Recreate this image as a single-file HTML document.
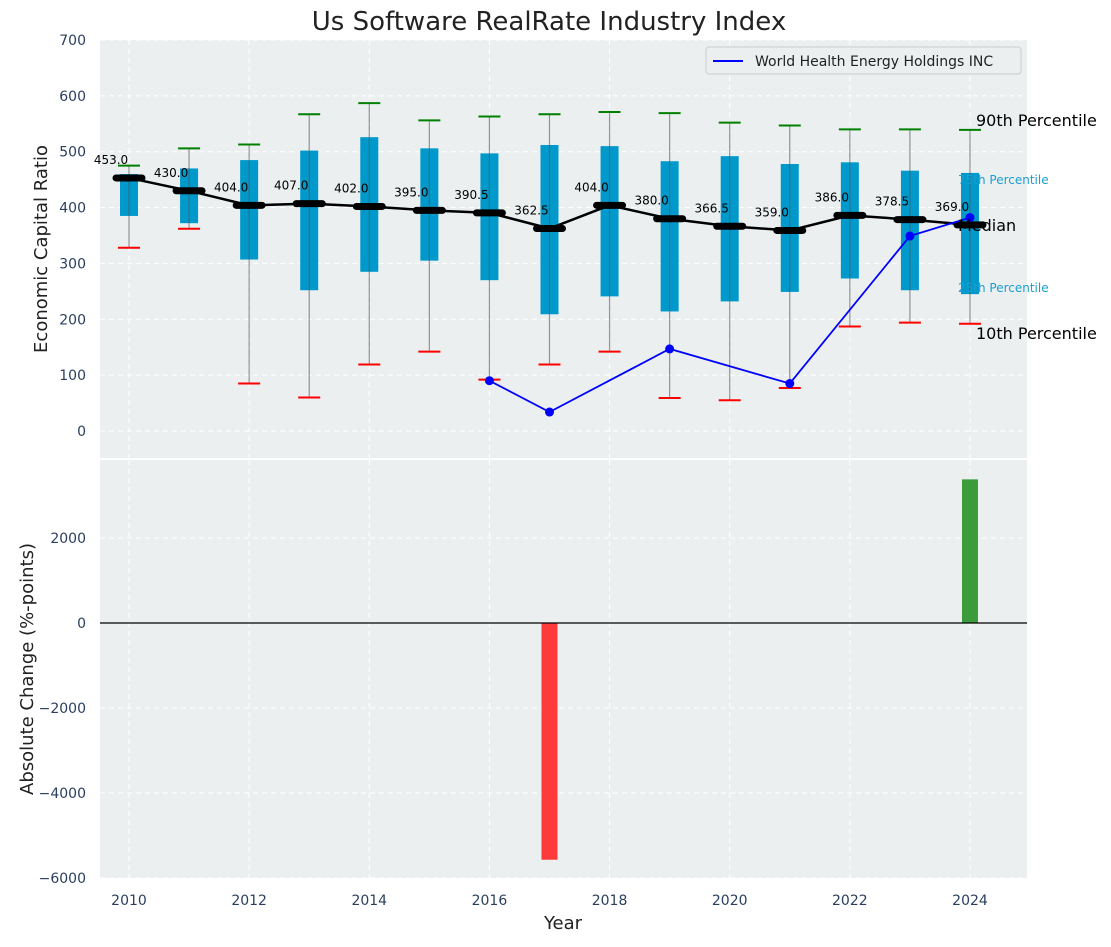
<!DOCTYPE html>
<html><head><meta charset="utf-8"><style>
body{margin:0;background:#fff;font-family:"Liberation Sans","DejaVu Sans",sans-serif;}
svg text{font-family:"DejaVu Sans","Liberation Sans",sans-serif;}
</style></head><body>
<svg id="chart" width="1111" height="942" xmlns="http://www.w3.org/2000/svg">
<text x="549" y="30" font-size="26" text-anchor="middle" fill="#222">Us Software RealRate Industry Index</text>
<rect x="100" y="40" width="927" height="418" fill="#ebeff0"/>
<rect x="100" y="460" width="927" height="418" fill="#ebeff0"/>
<g id="grid"></g><g id="marks"></g><g id="axes"></g>
<text transform="translate(47,249) rotate(-90)" font-size="18" text-anchor="middle" fill="#222">Economic Capital Ratio</text>
<text transform="translate(33,669) rotate(-90)" font-size="18" text-anchor="middle" fill="#222">Absolute Change (%-points)</text>
<text x="563" y="929" font-size="18" text-anchor="middle" fill="#222">Year</text>
<g>
<rect x="706" y="47" width="315" height="27" rx="3" fill="#ebeff0" stroke="#ccc"/>
<line x1="713" y1="61" x2="743" y2="61" stroke="blue" stroke-width="2"/>
<text x="755" y="66" font-size="14" fill="#222">World Health Energy Holdings INC</text>
</g>
<text x="976" y="126" font-size="16" fill="#000">90th Percentile</text>
<text x="958" y="184" font-size="12" fill="#1a9fd0">75th Percentile</text>
<text x="958" y="231" font-size="16" fill="#000">Median</text>
<text x="958" y="292" font-size="12" fill="#1a9fd0">25th Percentile</text>
<text x="976" y="339" font-size="16" fill="#000">10th Percentile</text>
</svg>
<script>
const years=[2010,2011,2012,2013,2014,2015,2016,2017,2018,2019,2020,2021,2022,2023,2024];
const medians=[453,430,404,407,402,395,390.5,362.5,404,380,366.5,359,386,378.5,369];
const q1=[385,372,307,252,285,305,270,209,241,214,232,249,273,252,245];
const q3=[460,470,485,502,526,506,497,512,510,483,492,478,481,466,462];
const p10=[328,362,85,60,119,142,92,119,142,59,55,77,187,194,192];
const p90=[475,506,513,567,587,556,563,567,571,569,552,547,540,540,539];
const compYears=[2016,2017,2019,2021,2023,2024];
const compVals=[90,34,147,85,349,382];
const changeYears=[2017,2024];
const changeVals=[-5570,3380];
const topTicks=[0,100,200,300,400,500,600,700];
const botTicks=[-6000,-4000,-2000,0,2000];
const xTicks=[2010,2012,2014,2016,2018,2020,2022,2024];
const X=y=>129+(y-2010)*60.07;
const YT=v=>431-v*0.5586;
const YB=v=>623-v*0.0425;
const NS="http://www.w3.org/2000/svg";
function mk(p,t,a){const e=document.createElementNS(NS,t);for(const k in a)e.setAttribute(k,a[k]);document.getElementById(p).appendChild(e);return e;}
topTicks.forEach(v=>{let l=mk('grid','line',{x1:100,x2:1027,y1:YT(v),y2:YT(v),stroke:'#fff','stroke-dasharray':'5,4'});

let t=mk('axes','text',{x:86,y:YT(v)+5,'font-size':14,'text-anchor':'end',fill:'#2a3f5f'});t.textContent=v;
});
botTicks.forEach(v=>{let l=mk('grid','line',{x1:100,x2:1027,y1:YB(v),y2:YB(v),stroke:'#fff','stroke-dasharray':'5,4'});

let t=mk('axes','text',{x:86,y:YB(v)+5,'font-size':14,'text-anchor':'end',fill:'#2a3f5f'});t.textContent=v===0?'0':String(v).replace('-','\u2212');
});
xTicks.forEach(v=>{[[40,458],[460,878]].forEach(r=>{let l=mk('grid','line',{x1:X(v),x2:X(v),y1:r[0],y2:r[1],stroke:'#fff','stroke-dasharray':'5,4'});
});
let t=mk('axes','text',{x:X(v),y:905,'font-size':14,'text-anchor':'middle',fill:'#2a3f5f'});t.textContent=v;
});
let zl=mk('axes','line',{x1:100,x2:1027,y1:YB(0),y2:YB(0),stroke:'#000','stroke-width':1.2});

years.forEach((y,i)=>{const x=X(y);
let b=mk('marks','rect',{x:x-9,y:YT(q3[i]),width:18,height:YT(q1[i])-YT(q3[i]),fill:'#0099cc'});

let w=mk('marks','line',{x1:x,x2:x,y1:YT(p10[i]),y2:YT(p90[i]),stroke:'#555','stroke-opacity':0.6,'stroke-width':1.2});

let c1=mk('marks','line',{x1:x-11,x2:x+11,y1:YT(p90[i]),y2:YT(p90[i]),stroke:'green','stroke-width':2});

let c2=mk('marks','line',{x1:x-11,x2:x+11,y1:YT(p10[i]),y2:YT(p10[i]),stroke:'red','stroke-width':2});
});
let mp=mk('marks','polyline',{points:years.map((y,i)=>X(y)+','+YT(medians[i])).join(' '),fill:'none',stroke:'#000','stroke-width':2.5});

years.forEach((y,i)=>{const x=X(y);
let m=mk('marks','line',{x1:x-13,x2:x+13,y1:YT(medians[i]),y2:YT(medians[i]),stroke:'#000','stroke-width':7,'stroke-linecap':'round'});

let t=mk('marks','text',{x:x-18,y:YT(medians[i])-14,'font-size':12,'text-anchor':'middle',fill:'#000'});t.textContent=medians[i].toFixed(1);
});
let cp=mk('marks','polyline',{points:compYears.map((y,i)=>X(y)+','+YT(compVals[i])).join(' '),fill:'none',stroke:'blue','stroke-width':1.8});

compYears.forEach((y,i)=>{let c=mk('marks','circle',{cx:X(y),cy:YT(compVals[i]),r:4.5,fill:'blue'});
});
changeYears.forEach((y,i)=>{const v=changeVals[i];
let r=mk('marks','rect',{x:X(y)-8,y:Math.min(YB(v),YB(0)),width:16,height:Math.abs(YB(v)-YB(0)),fill:v<0?'#ff3a3a':'#3c9c3c'});
});
</script>
</body></html>
